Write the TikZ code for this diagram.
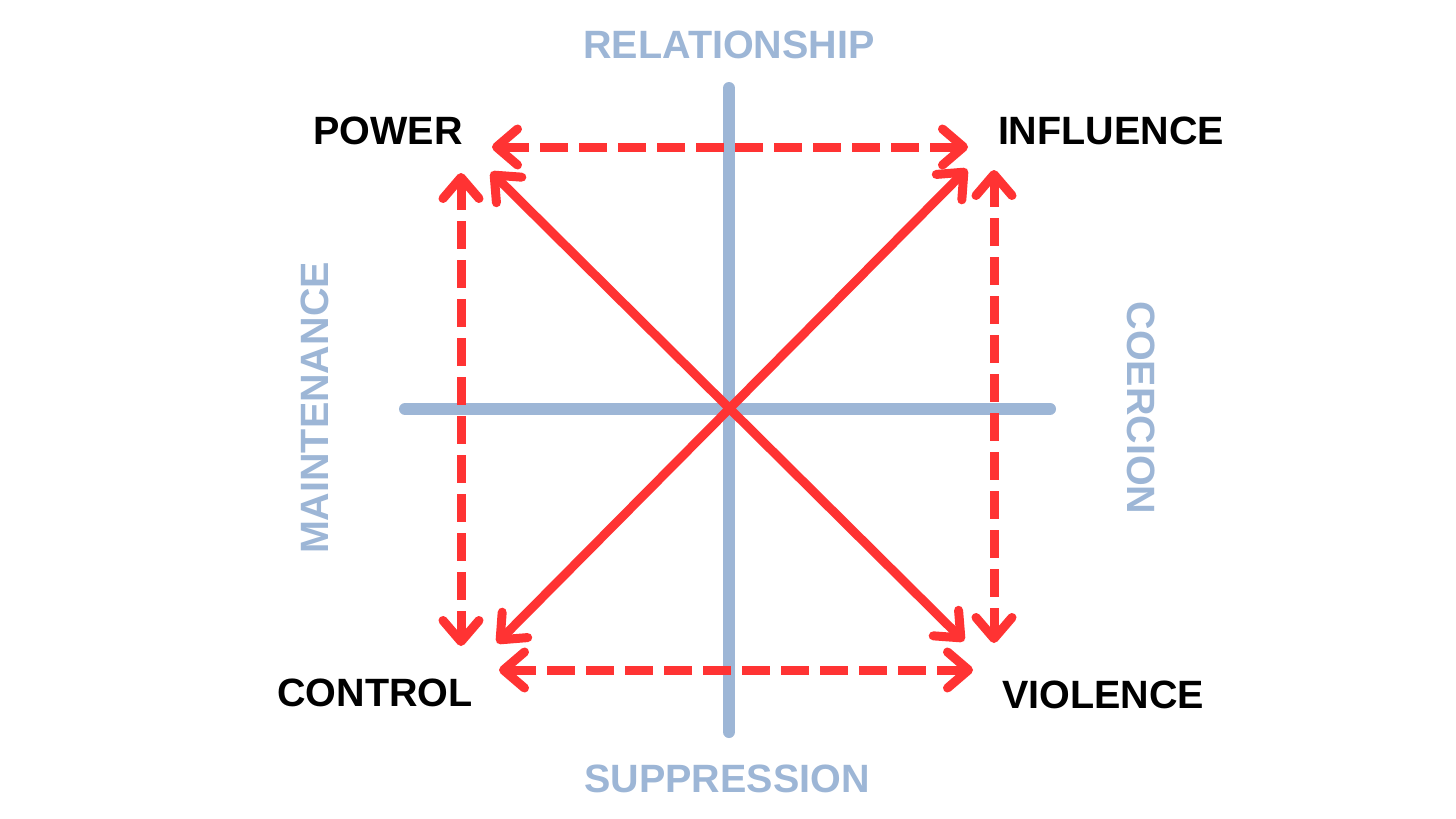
\documentclass[tikz,border=0pt]{standalone}
\usepackage{fontspec}
\setmainfont{Liberation Sans}
\usetikzlibrary{arrows.meta}
\definecolor{rd}{RGB}{255,51,51}
\definecolor{ax}{RGB}{157,182,214}
\tikzset{
  axisline/.style={draw=ax, line width=12pt, line cap=round},
  link/.style={draw=rd, line width=9pt, {Straight Barb[length=21pt,width=36pt,round]}-{Straight Barb[length=21pt,width=36pt,round]}},
  dlink/.style={link, dash pattern=on 28pt off 11pt},
  corner/.style={font=\bfseries\fontsize{39.5}{39.5}\selectfont, text=black, inner sep=0pt},
  axlabel/.style={font=\bfseries\fontsize{39.5}{39.5}\selectfont, text=ax, inner sep=0pt}
}
\begin{document}
\begin{tikzpicture}[x=1pt,y=-1pt]
\useasboundingbox[fill=white] (0,0) rectangle (1456,819);
% axes
\coordinate (vt) at (729,88);
\coordinate (vb) at (729,732);
\coordinate (hl) at (405,409);
\coordinate (hr) at (1050,409);
\draw[axisline] (vt) -- (vb);
\draw[axisline] (hl) -- (hr);
% arrow end points
\coordinate (ptop) at (492,147);
\coordinate (itop) at (968,147);
\coordinate (cbot) at (499,670);
\coordinate (vbot) at (973,670);
\coordinate (pleft) at (461,173);
\coordinate (cleft) at (461,646);
\coordinate (iright) at (994,170);
\coordinate (vright) at (994,643);
\coordinate (pdiag) at (491,172);
\coordinate (vdiag) at (964,641);
\coordinate (idiag) at (967,169);
\coordinate (cdiag) at (497,643);
% connectors
\draw[dlink] (ptop) -- (itop);
\draw[dlink] (cbot) -- (vbot);
\draw[dlink] (pleft) -- (cleft);
\draw[dlink] (iright) -- (vright);
\draw[link] (pdiag) -- (vdiag);
\draw[link] (idiag) -- (cdiag);
% labels
\node[corner] (power) at (388,131) {POWER};
\node[corner] (influence) at (1111,131) {INFLUENCE};
\node[corner] (control) at (375,693) {CONTROL};
\node[corner] (violence) at (1103,695) {VIOLENCE};
\node[axlabel] (relationship) at (729,45) {RELATIONSHIP};
\node[axlabel] (suppression) at (727,779) {SUPPRESSION};
\node[axlabel, rotate=90] (maintenance) at (315,408) {MAINTENANCE};
\node[axlabel, rotate=-90] (coercion) at (1141,408) {COERCION};
\end{tikzpicture}
\end{document}
